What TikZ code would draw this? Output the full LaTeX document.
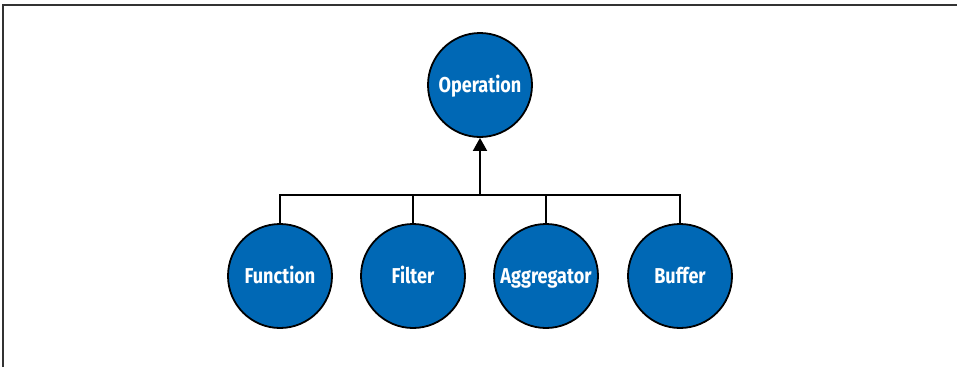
\documentclass[tikz,border=0pt]{standalone}
\usepackage{fontspec}
\setmainfont[FakeStretch=0.84]{Fira Sans}
\usetikzlibrary{arrows.meta}
\definecolor{opblue}{HTML}{0068B5}
\begin{document}
\begin{tikzpicture}[x=1pt,y=-1pt,
  cls/.style={circle,draw=black,line width=1.8pt,fill=opblue,minimum size=104pt,inner sep=0pt,
    text=white,font=\fontsize{21.5}{24}\selectfont\bfseries,text height=1.4em,text depth=0pt},
  conn/.style={line width=1.8pt,draw=black}]
\useasboundingbox (0,0) rectangle (957,367);
\draw[line width=1.6pt,color=black!80] (3,367) -- (3,5) -- (957,5);
\node[cls] (op) at (480,85) {Operation};
\node[cls] (fn) at (280,276) {Function};
\node[cls] (fi) at (413,276) {Filter};
\node[cls] (ag) at (546,276) {Aggregator};
\node[cls] (bu) at (680,276) {Buffer};
\coordinate (j) at (480,195);
\draw[conn] (fn.north) |- (j) -| (bu.north);
\draw[conn] (fi.north) -- (fi.north |- j);
\draw[conn] (ag.north) -- (ag.north |- j);
\draw[conn,-{Triangle[length=13pt,width=14pt]}] (j) -- (op.south);
\end{tikzpicture}
\end{document}
